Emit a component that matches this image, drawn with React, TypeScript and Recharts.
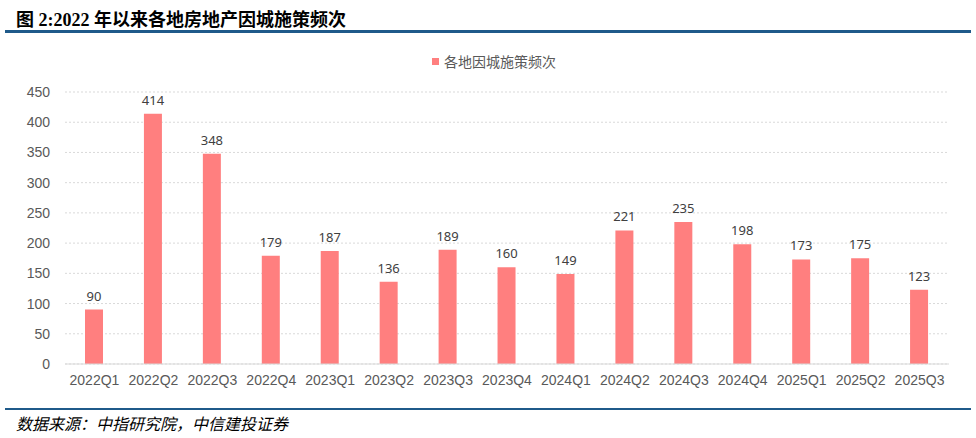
import React from 'react';
import { BarChart, Bar, XAxis, YAxis, CartesianGrid, LabelList } from 'recharts';

const quarters = [
  '2022Q1', '2022Q2', '2022Q3', '2022Q4',
  '2023Q1', '2023Q2', '2023Q3', '2023Q4',
  '2024Q1', '2024Q2', '2024Q3', '2024Q4',
  '2025Q1', '2025Q2', '2025Q3',
];
const policyCounts = [90, 414, 348, 179, 187, 136, 189, 160, 149, 221, 235, 198, 173, 175, 123];
const yTicks = [0, 50, 100, 150, 200, 250, 300, 350, 400, 450];

const seriesName = '各地因城施策频次';
const barColor = '#FF7F7F';

const data = quarters.map((q, i) => ({ quarter: q, value: policyCounts[i] }));

const App = () => {
  return (
    <div style={{ position: 'absolute', left: 0, top: 0, width: 976, height: 438, background: '#fff' }}>
      <div
        style={{
          position: 'absolute',
          left: 16,
          top: 5,
          fontFamily: '"Liberation Serif", "Noto Sans CJK SC", serif',
          fontWeight: 'bold',
          fontSize: 18,
          color: '#000',
          whiteSpace: 'nowrap',
        }}
      >
        图 2:2022 年以来各地房地产因城施策频次
      </div>
      <div style={{ position: 'absolute', left: 5, top: 30, width: 966, height: 3, background: '#1F5A8A' }} />

      <BarChart
        width={976}
        height={438}
        data={data}
        margin={{ top: 92, right: 27, bottom: 44, left: 20 }}
        barSize={18}
        style={{ position: 'absolute', left: 0, top: 0 }}
      >
        <CartesianGrid vertical={false} stroke="#D9D9D9" strokeDasharray="2 2" />
        <XAxis
          dataKey="quarter"
          height={30}
          axisLine={{ stroke: '#D9D9D9' }}
          tickLine={false}
          tickSize={0}
          tickMargin={11}
          interval={0}
          tick={{ fill: '#595959', fontSize: 14, fontFamily: '"Liberation Sans", Arial, sans-serif' }}
        />
        <YAxis
          width={45}
          domain={[0, 450]}
          ticks={yTicks}
          axisLine={false}
          tickLine={false}
          tickSize={0}
          tickMargin={15}
          tick={{ fill: '#595959', fontSize: 14, fontFamily: '"Liberation Sans", Arial, sans-serif' }}
        />
        <Bar dataKey="value" name={seriesName} fill={barColor} isAnimationActive={false}>
          <LabelList
            dataKey="value"
            position="top"
            offset={9}
            fill="#404040"
            fontSize={13}
            fontFamily='"Noto Sans", sans-serif'
          />
        </Bar>
      </BarChart>

      <div
        style={{
          position: 'absolute',
          left: 0,
          top: 51,
          width: 976,
          display: 'flex',
          justifyContent: 'center',
          alignItems: 'center',
          fontFamily: '"Noto Sans CJK SC", sans-serif',
          fontSize: 14,
          color: '#595959',
        }}
      >
        <span style={{ width: 7, height: 7, background: barColor, display: 'inline-block', marginRight: 5, marginLeft: 12 }} />
        <span>{seriesName}</span>
      </div>

      <div style={{ position: 'absolute', left: 5, top: 408, width: 966, height: 1.5, background: '#1F5A8A' }} />
      <div
        style={{
          position: 'absolute',
          left: 16,
          top: 411,
          fontFamily: '"Noto Sans CJK SC", sans-serif',
          fontStyle: 'italic',
          fontSize: 16,
          color: '#000',
          whiteSpace: 'nowrap',
        }}
      >
        数据来源：中指研究院，中信建投证券
      </div>
    </div>
  );
};

export default App;
